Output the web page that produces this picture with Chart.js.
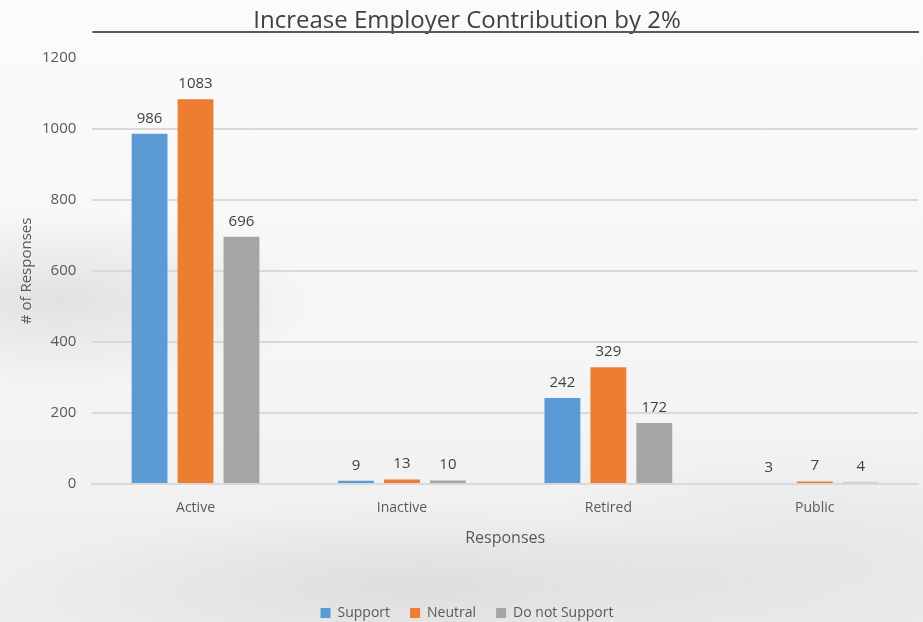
<!DOCTYPE html>
<html>
<head>
<meta charset="utf-8">
<script src="https://cdn.jsdelivr.net/npm/chart.js@4/dist/chart.umd.min.js"></script>
<style>
  html, body { margin: 0; padding: 0; }
  body {
    width: 923px; height: 622px; overflow: hidden;
    background:
      radial-gradient(ellipse 260px 90px at 60px 300px, rgba(200,200,200,0.45), rgba(200,200,200,0) 100%),
      radial-gradient(ellipse 420px 80px at 420px 585px, rgba(205,205,205,0.5), rgba(205,205,205,0) 100%),
      radial-gradient(ellipse 300px 120px at 820px 560px, rgba(215,215,215,0.4), rgba(215,215,215,0) 100%),
      linear-gradient(180deg, #fbfbfb 0%, #f6f6f6 55%, #ededed 100%);
  }
  canvas { display: block; }
</style>
</head>
<body>
<canvas id="chart" width="923" height="622"></canvas>
<script>
var categories = ['Active', 'Inactive', 'Retired', 'Public'];
var seriesNames = ['Support', 'Neutral', 'Do not Support'];
var supportValues = [986, 9, 242, 3];
var neutralValues = [1083, 13, 329, 7];
var notSupportValues = [696, 10, 172, 4];
var seriesColors = ['#5b9bd5', '#ed7d31', '#a5a5a5'];

var fontFamily = "'Open Sans', 'Noto Sans', sans-serif";

// value labels above each bar
var barLabels = {
  id: 'barLabels',
  afterDatasetsDraw: function (chart) {
    var ctx = chart.ctx;
    ctx.save();
    ctx.font = '15px ' + fontFamily;
    ctx.fillStyle = '#404040';
    ctx.textAlign = 'center';
    ctx.textBaseline = 'bottom';
    chart.data.datasets.forEach(function (ds, i) {
      chart.getDatasetMeta(i).data.forEach(function (bar, j) {
        ctx.fillText(ds.data[j], bar.x, bar.y - 8);
      });
    });
    ctx.restore();
  }
};

// dark rule under the title
var titleRule = {
  id: 'titleRule',
  afterDraw: function (chart) {
    var ctx = chart.ctx;
    var area = chart.chartArea;
    ctx.save();
    ctx.strokeStyle = '#595959';
    ctx.lineWidth = 2;
    ctx.beginPath();
    ctx.moveTo(area.left, 32);
    ctx.lineTo(area.right + 1, 32);
    ctx.stroke();
    ctx.restore();
  }
};

new Chart(document.getElementById('chart'), {
  type: 'bar',
  data: {
    labels: categories,
    datasets: [
      { label: seriesNames[0], data: supportValues, backgroundColor: seriesColors[0] },
      { label: seriesNames[1], data: neutralValues, backgroundColor: seriesColors[1] },
      { label: seriesNames[2], data: notSupportValues, backgroundColor: seriesColors[2] }
    ]
  },
  options: {
    responsive: false,
    animation: false,
    categoryPercentage: 0.668,
    barPercentage: 0.78,
    layout: { padding: { left: 16, right: 5, top: 0, bottom: -8 } },
    plugins: {
      title: {
        display: true,
        text: 'Increase Employer Contribution by 2%',
        color: '#404040',
        font: { family: fontFamily, size: 24, weight: 'normal' },
        padding: { top: 7, bottom: 22 }
      },
      legend: {
        position: 'bottom',
        labels: {
          boxWidth: 10,
          boxHeight: 10,
          padding: 20,
          color: '#595959',
          font: { family: fontFamily, size: 14 }
        }
      },
      tooltip: { enabled: false }
    },
    scales: {
      x: {
        grid: { display: false },
        border: { color: '#d9d9d9', width: 2 },
        ticks: { color: '#595959', font: { family: fontFamily, size: 14 }, padding: 8 },
        title: {
          display: true,
          text: 'Responses',
          color: '#595959',
          font: { family: fontFamily, size: 16 },
          padding: { top: 4, bottom: 38 }
        }
      },
      y: {
        min: 0,
        max: 1200,
        ticks: {
          stepSize: 200,
          color: '#595959',
          font: { family: fontFamily, size: 15 },
          padding: 16,
          callback: function (v) { return String(v); }
        },
        border: { display: false },
        grid: {
          drawTicks: false,
          color: function (c) { return c.tick && c.tick.value === 1200 ? 'rgba(0,0,0,0)' : '#d9d9d9'; },
          lineWidth: 2
        },
        title: {
          display: true,
          text: '# of Responses',
          color: '#595959',
          font: { family: fontFamily, size: 15 },
          padding: { top: 2, bottom: -10 }
        }
      }
    }
  },
  plugins: [barLabels, titleRule]
});
</script>
</body>
</html>
